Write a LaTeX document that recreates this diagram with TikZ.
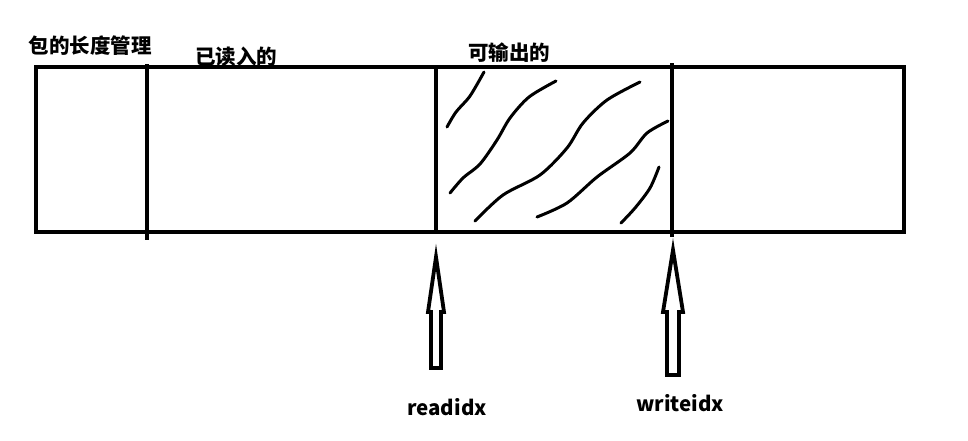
\documentclass[tikz,border=0pt]{standalone}
\usepackage{fontspec}
\newfontfamily\cjk{Noto Sans CJK SC}
\usetikzlibrary{calc,positioning}

\tikzset{
    lbl/.style={font=\cjk\bfseries\fontsize{20.5}{20.5}\selectfont, inner sep=0pt},
    wall/.style={line width=4.5pt},
    hatch/.style={line width=3pt, line cap=round, line join=round},
    ptr/.style={line width=3.8pt, line join=miter}
}

\begin{document}
\begin{tikzpicture}[x=1pt, y=-1pt]
    \useasboundingbox (0,0) rectangle (968,440);
    % buffer
    \draw[wall] (36,67) rectangle (904,232);
    \draw[wall] (147,64) -- (147,240);
    \draw[wall] (436,67) -- (436,234);
    \draw[wall] (672,63) -- (672,237);
    % hatched part
    \draw[hatch] plot[smooth] coordinates {(484,72) (470,96) (456,112) (447,127)};
    \draw[hatch] plot[smooth] coordinates {(556,81) (529,97) (510,118) (497,140) (480,164) (463,178) (450,193)};
    \draw[hatch] plot[smooth] coordinates {(640,82) (607,100) (583,123) (567,148) (540,175) (503,195) (475,221)};
    \draw[hatch] plot[smooth] coordinates {(668,121) (647,133) (630,153) (597,177) (567,203) (537,217)};
    \draw[hatch] plot[smooth] coordinates {(659,167) (650,188) (635,208) (621,223)};
    % labels
    \node[lbl] (len) at (90,46) {包的长度管理};
    \node[lbl] (done) at (236,57) {已读入的};
    \node[lbl] (avail) at (509,53) {可输出的};
    % pointers
    \draw[ptr] (436,257) -- (444,312) -- (441,312) -- (441,368) -- (431,368) -- (431,312) -- (428,312) -- cycle;
    \draw[ptr] (673,250) -- (683,312) -- (679,312) -- (679,375) -- (667,375) -- (667,312) -- (663,312) -- cycle;
    \node[lbl] (rd) at (447,407) {readidx};
    \node[lbl] (wr) at (680,403) {writeidx};
\end{tikzpicture}
\end{document}
